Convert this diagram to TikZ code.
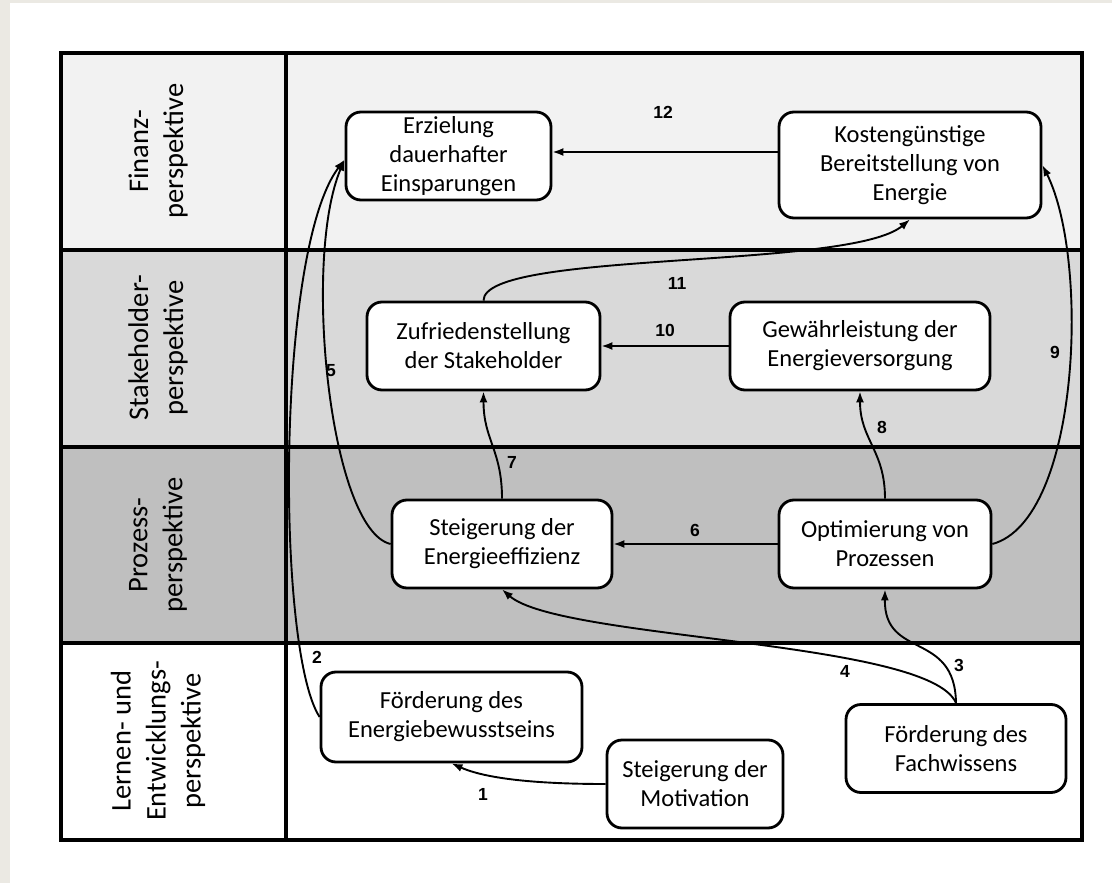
\documentclass[tikz,border=0pt]{standalone}
\usepackage{fontspec}
\setmainfont{Carlito}
\newfontfamily\numfont{Liberation Sans}
\usetikzlibrary{arrows.meta}
\definecolor{beige}{RGB}{235,233,227}
\definecolor{rowA}{RGB}{242,242,242}
\definecolor{rowB}{RGB}{217,217,217}
\definecolor{rowC}{RGB}{191,191,191}
\begin{document}
\begin{tikzpicture}[x=1pt,y=-1pt,
  box/.style={draw, line width=2.8pt, fill=white, rounded corners=15pt, align=center,
    font=\fontsize{24.5}{29}\selectfont, inner sep=0pt, minimum height=88pt},
  conn/.style={line width=1.9pt, -{Latex[length=11pt,width=8pt]}},
  num/.style={font=\numfont\bfseries\fontsize{17.5}{19}\selectfont},
  rowlab/.style={rotate=90, align=center, font=\fontsize{28.5}{35}\selectfont},
  tline/.style={line width=3.5pt}]
\useasboundingbox (0,0) rectangle (1112,883);
\fill[beige] (0,0) rectangle (1112,883);
\fill[white] (10,3) rectangle (1112,883);
% rows
\fill[rowA] (61,53) rectangle (1082,250);
\fill[rowB] (61,250) rectangle (1082,447);
\fill[rowC] (61,447) rectangle (1082,643);
\draw[tline] (286,53) -- (286,840);
\draw[tline] (61,250) -- (1082,250);
\draw[tline] (61,447) -- (1082,447);
\draw[tline] (61,643) -- (1082,643);
\draw[tline] (61,53) rectangle (1082,840);
% row labels
\node[rowlab] (lf) at (158,151) {Finanz-\\perspektive};
\node[rowlab] (ls) at (158,348) {Stakeholder-\\perspektive};
\node[rowlab] (lp) at (158,545) {Prozess-\\perspektive};
\node[rowlab] (ll) at (158,741) {Lernen- und\\Entwicklungs-\\perspektive};
% boxes
\node[box, minimum width=205pt] (E) at (448.5,156) {Erzielung\\dauerhafter\\Einsparungen};
\node[box, minimum width=262pt, minimum height=106pt] (K) at (910,165) {Kostengünstige\\Bereitstellung von\\Energie};
\node[box, minimum width=233pt] (Z) at (483.5,346) {Zufriedenstellung\\der Stakeholder};
\node[box, minimum width=260pt] (G) at (860,346) {Gewährleistung der\\Energieversorgung};
\node[box, minimum width=220pt] (S) at (502,544) {Steigerung der\\Energieeffizienz};
\node[box, minimum width=212pt] (O) at (885,544) {Optimierung von\\Prozessen};
\node[box, minimum width=261pt, minimum height=90pt] (FE) at (451.5,717) {Förderung des\\Energiebewusstseins};
\node[box, minimum width=176pt] (M) at (695,784) {Steigerung der\\Motivation};
\node[box, minimum width=220pt] (F) at (956,748.5) {Förderung des\\Fachwissens};
% connectors
\coordinate (y12) at (0,152);
\draw[conn] (M.west) .. controls (520,784) and (480,776) .. (FE.south);
\draw[conn] (FE.west) .. controls (276,650) and (276,250) .. (E.182);
\draw[conn] (S.west) .. controls (330,530) and (302,260) .. (E.182);
\draw[conn] (F.north) .. controls (955,630) and (884,660) .. (O.south);
\draw[conn] (F.north) .. controls (930,640) and (560,640) .. (S.south);
\draw[conn] (O.west) -- (S.east);
\draw[conn] (S.north) .. controls (502,450) and (483.5,440) .. (Z.south);
\draw[conn] (O.north) .. controls (885,450) and (860,440) .. (G.south);
\draw[conn] (O.east) .. controls (1080,520) and (1090,260) .. (K.east);
\draw[conn] (G.west) -- (Z.east);
\draw[conn] (Z.north) .. controls (483.5,250) and (850,270) .. (K.south);
\draw[conn] (K.west |- y12) -- (E.east |- y12);
% numbers
\node[num] (n1) at (483,794) {1};
\node[num] (n2) at (317,657) {2};
\node[num] (n3) at (959,665) {3};
\node[num] (n4) at (845,671) {4};
\node[num] (n5) at (331,371) {5};
\node[num] (n6) at (695,530) {6};
\node[num] (n7) at (512,462) {7};
\node[num] (n8) at (882,427) {8};
\node[num] (n9) at (1055,352) {9};
\node[num] (n10) at (665,330) {10};
\node[num] (n11) at (677,283) {11};
\node[num] (n12) at (663,112) {12};
\end{tikzpicture}
\end{document}
